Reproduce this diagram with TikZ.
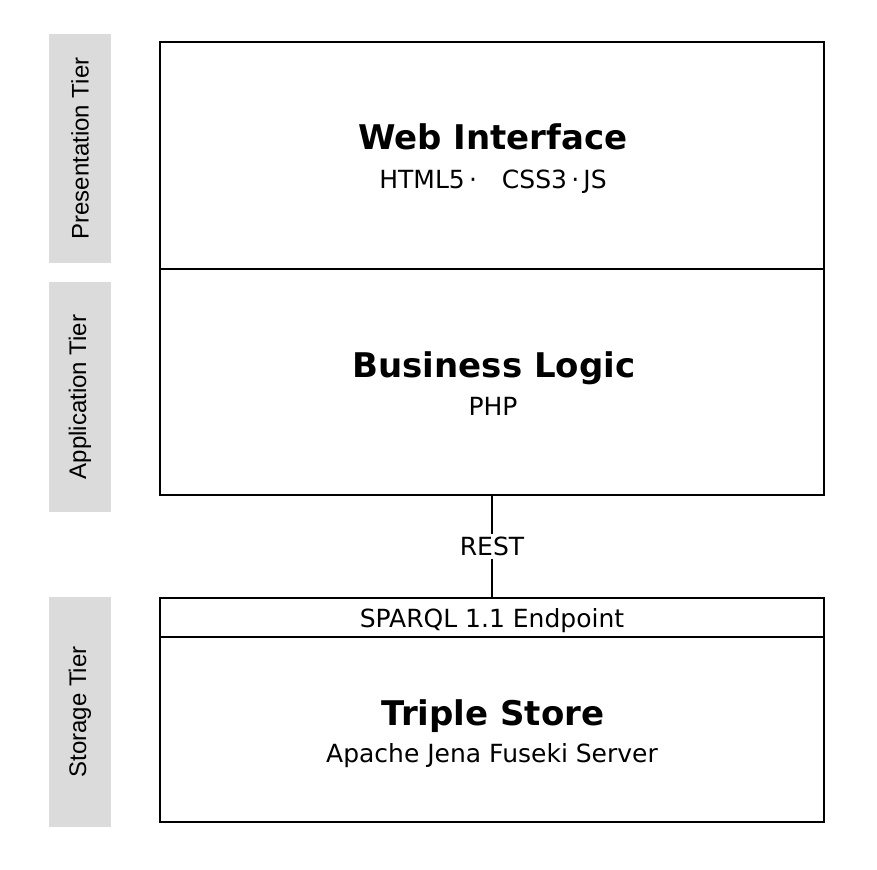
\documentclass[tikz,border=0pt]{standalone}
\usepackage{fontspec}
\setmainfont{DejaVu Sans}
\newfontfamily\tierfont{Liberation Sans}
\begin{document}
\begin{tikzpicture}[x=1pt,y=-1pt,
  box/.style={draw=black, line width=2pt, minimum width=664pt, inner sep=0pt},
  tier/.style={fill=black!14, minimum width=62pt, minimum height=230pt, inner sep=0pt},
  tiertext/.style={rotate=90, font=\tierfont\fontsize{24}{28}\selectfont},
  title/.style={font=\bfseries\fontsize{34}{40}\selectfont, inner sep=0pt, anchor=base},
  sub/.style={font=\fontsize{25}{28}\selectfont, inner sep=0pt, anchor=base}]
\useasboundingbox (0,0) rectangle (877,869);
% tiers
\node[tier, minimum height=229pt] (tp) at (80,148.5) {};
\node[tiertext] (tpt) at (tp.center) {Presentation Tier};
\node[tier] (ta) at (80,397) {};
\node[tiertext] (tat) at (ta.center) {Application Tier};
\node[tier] (ts) at (80,712) {};
\node[tiertext] (tst) at (ts.center) {Storage Tier};
% boxes
\node[box, minimum height=227pt] (web) at (492,155.5) {};
\node[box, minimum height=226pt] (logic) at (492,382) {};
\node[box, minimum height=39pt] (ep) at (492,617.5) {};
\node[box, minimum height=185pt] (store) at (492,729.5) {};
% texts
\node[title] (webt) at (493,149.5) {Web Interface};
\node[sub] (webs) at (493,188) {HTML5\,·\quad CSS3\,·\,JS};
\node[title] (logt) at (494,377) {Business Logic};
\node[sub] (logs) at (493,415) {PHP};
\node[sub] (ept) at (492,627) {SPARQL 1.1 Endpoint};
\node[title] (stt) at (493,725) {Triple Store};
\node[sub] (sts) at (492,762) {Apache Jena Fuseki Server};
% connector
\draw[line width=2pt] (logic.south) -- node[fill=white, font=\fontsize{25}{28}\selectfont, inner sep=3pt] (rest) {REST} (ep.north);
\end{tikzpicture}
\end{document}
